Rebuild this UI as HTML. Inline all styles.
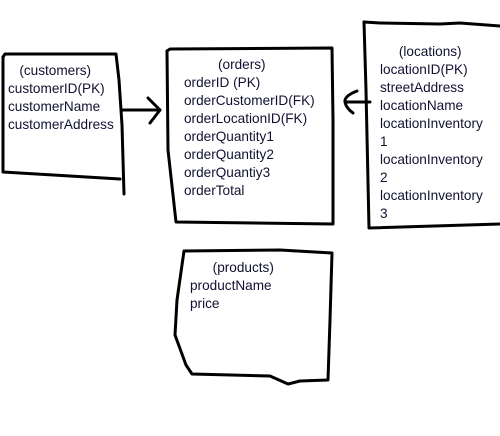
<!DOCTYPE html>
<html><head><meta charset="utf-8"><style>
html,body{margin:0;padding:0;background:#fff;width:500px;height:436px;overflow:hidden}
svg{position:absolute;left:0;top:0}
.t{position:absolute;font-family:"Liberation Sans",sans-serif;font-size:13.6px;line-height:18px;color:#111133;white-space:pre}
</style></head><body>
<svg width="500" height="436" viewBox="0 0 500 436" fill="none" stroke="#000" stroke-width="3" stroke-linecap="round" stroke-linejoin="round">
<path d="M3,57 L5,54 L116,54 L119,80 L122,125 L124,194"/>
<path d="M3,57 L3,172 L120,179"/>
<path d="M167,51 L170,49 L332,48 L333,120 L333,224 L176,222 L168,150 L167,51"/>
<path d="M364,22 L380,23 L440,24 L460,23 L500,26"/>
<path d="M364,22 L366,90 L369,228 L500,224"/>
<path d="M184,251 L280,250 L332,253 L330,320 L328,380 L300,381 L288,384 L270,376 L192,374 L186,365 L175,335 L177,300 L184,251"/>
<path d="M122,110 L160,110 M148,98 L160,110 L150,123"/>
<path d="M370,102 L345,102 M357,91 Q344,96 345,102 Q346,108 353,113"/>
</svg>
<div class="t" style="left:8px;top:62px">   (customers)
customerID(PK)
customerName
customerAddress</div>
<div class="t" style="left:184px;top:56px">         (orders)
orderID (PK)
orderCustomerID(FK)
orderLocationID(FK)
orderQuantity1
orderQuantity2
orderQuantiy3
orderTotal</div>
<div class="t" style="left:380px;top:43px">     (locations)
locationID(PK)
streetAddress
locationName
locationInventory
1
locationInventory
2
locationInventory
3</div>
<div class="t" style="left:190px;top:259px">      (products)
productName
price</div>
</body></html>
